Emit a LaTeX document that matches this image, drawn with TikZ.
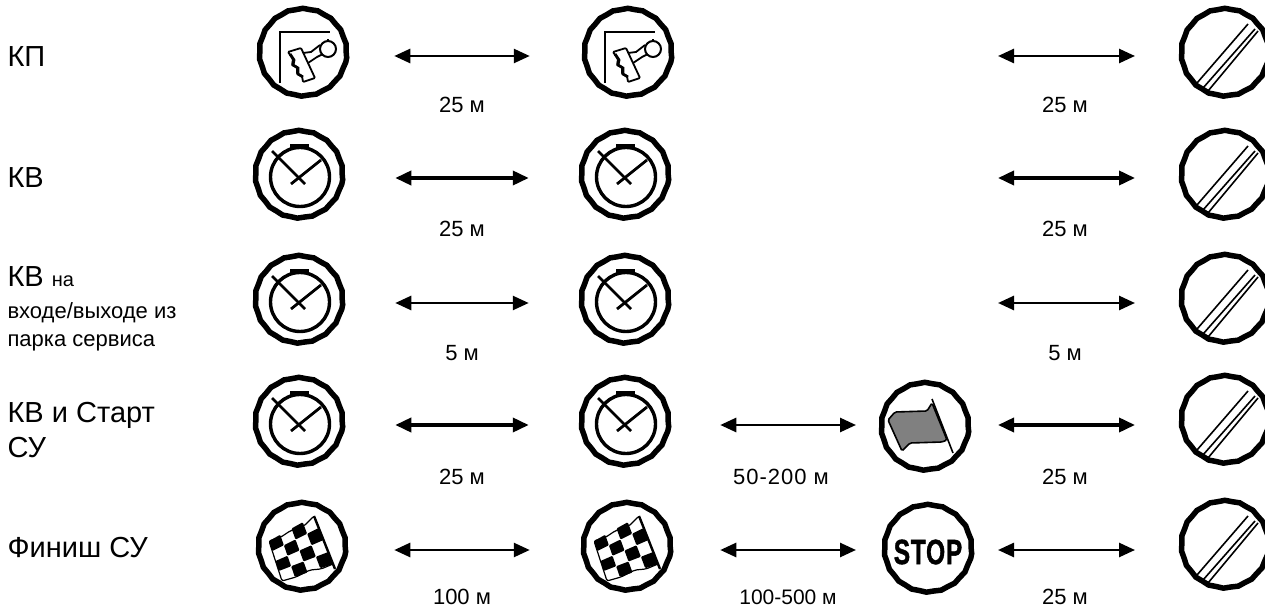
\documentclass[tikz,border=0pt]{standalone}
\usepackage{fontspec}
\setmainfont{Liberation Sans}
\usetikzlibrary{arrows.meta, calc, positioning, decorations.pathmorphing}

\newcommand{\flagpt}[2]{($($(fa)!#1/4!(fb)$)!#2/4!($(fd)!#1/4!(fc)$)$)}

\tikzset{
	sign/.style={circle, draw=black, line width=5.5pt, minimum size=87pt, inner sep=0pt,
		decorate, decoration={snake, segment length=15pt, amplitude=0.4pt}},
	face/.style={yscale=-1},
	dist/.style={<->, >={Triangle[length=16pt,width=14pt]}, line width=2.6pt},
	heavy/.style={line width=3.6pt},
	dist label/.style={font=\fontsize{22}{26}\selectfont},
	row label/.style={anchor=west, align=left, font=\fontsize{29}{35}\selectfont},
	pics/stampface/.style={code={
		\draw[line width=1.8pt] (-23,27) -- (-23,-24) -- (27,-24);
		\draw[line width=1.8pt, rounded corners=1pt] (-15,-4) -- (-2,-8) -- (12,22) -- (0,26)
			-- (-1,20) -- (-6,18) -- (-6,11) -- (-11,9) -- (-10,3) -- cycle;
		\draw[line width=2.8pt] (-13,-2) -- (-9,4) -- (-10,9) -- (-5,12) -- (-5,18) -- (0,21);
		\draw[line width=1.8pt] (0,-3) -- (8,-4) -- (17,-11) (5,7) -- (14,1) -- (20,-2);
		\draw[line width=2pt, fill=white] (25,-7) circle (8);
		\draw[line width=2.4pt] (25,-15) -- (25,-17);
	}},
	pics/clockface/.style={code={
		\draw[line width=3.4pt] (1,-1) circle (29.5);
		\draw[line width=4.5pt] (-9,-32) -- (10,-32);
		\draw[line width=2.8pt] (-27,-27) -- (6,6);
		\draw[line width=2.8pt] (22,-18) -- (-8,6);
	}},
	pics/cancelface/.style={code={
		\draw[line width=1.6pt] (-28,27) -- (23,-32);
		\draw[line width=1.6pt] (-22,32) -- (30,-27);
		\draw[line width=1.6pt] (-17,35) -- (33,-25);
	}},
	pics/greenface/.style={code={
		\draw[line width=1.6pt, fill=black!50, rounded corners=1.5pt] (-37,-10) -- (-30,-18) -- (2,-19) -- (7,-27)
			-- (22,10) -- (17,12) -- (-15,13) -- (-23,21) -- cycle;
		\draw[line width=1.6pt] (7,-31) -- (28,23);
	}},
	pics/finishface/.style={code={
		\coordinate (fa) at (-33,-9);
		\coordinate (fb) at (12,-34);
		\coordinate (fc) at (31,14);
		\coordinate (fd) at (-20,31);
		\draw[line width=1.2pt, rounded corners=2pt] (fa) -- (-21,-13) -- (-12,-19) -- (2,-24) -- (fb)
			-- (fc) -- (19,19) -- (8,20) -- (-6,27) -- (fd) -- cycle;
		\foreach \i in {0,...,3} {
			\foreach \j in {0,...,3} {
				\pgfmathparse{int(mod(\i+\j,2))}
				\ifnum\pgfmathresult=0
					\pgfmathsetmacro{\ni}{int(\i+1)}
					\pgfmathsetmacro{\nj}{int(\j+1)}
					\fill[rounded corners=1pt] \flagpt{\i}{\j} -- \flagpt{\ni}{\j} -- \flagpt{\ni}{\nj} -- \flagpt{\i}{\nj} -- cycle;
				\fi
			}
		}
		\draw[line width=2.4pt] (12,-34) -- (33,19);
	}}
}

\begin{document}
\begin{tikzpicture}[x=1pt, y=1pt]

	\useasboundingbox (0,0) rectangle (1265,-609);

	% row labels
	\node[row label] (L1) at (4,-57) {КП};
	\node[row label] (L2) at (4,-178) {КВ};
	\node[row label] (L3) at (4,-309) {КВ {\fontsize{20}{29}\selectfont на}\\[-3pt]
		{\fontsize{22}{29}\selectfont входе/выходе из}\\[-7pt]
		{\fontsize{22}{29}\selectfont парка сервиса}};
	\node[row label] (L4) at (4,-430) {КВ и Старт\\СУ};
	\node[row label] (L5) at (4,-548) {Финиш СУ};

	% signs
	\node[sign] (A1) at (303,-56) {};
	\node[sign] (B1) at (628,-56) {};
	\node[sign] (D1) at (1225,-56) {};

	\node[sign] (A2) at (299,-178) {};
	\node[sign] (B2) at (625,-178) {};
	\node[sign] (D2) at (1225,-178) {};

	\node[sign] (A3) at (299,-303) {};
	\node[sign] (B3) at (625,-303) {};
	\node[sign] (D3) at (1225,-302) {};

	\node[sign] (A4) at (299,-425) {};
	\node[sign] (B4) at (625,-425) {};
	\node[sign] (C4) at (925,-430) {};
	\node[sign] (D4) at (1225,-423) {};

	\node[sign] (A5) at (302,-550) {};
	\node[sign] (B5) at (627,-550) {};
	\node[sign] (C5) at (928,-552) {\scalebox{0.7}[1]{\fontsize{35}{35}\selectfont\bfseries\addfontfeature{FakeBold=1.5,LetterSpace=3} STOP}};
	\node[sign] (D5) at (1225,-548) {};

	% what is inside the signs
	\pic[face] at (A1) {stampface};
	\pic[face] at (B1) {stampface};
	\pic[face] at (A2) {clockface};
	\pic[face] at (B2) {clockface};
	\pic[face] at (A3) {clockface};
	\pic[face] at (B3) {clockface};
	\pic[face] at (A4) {clockface};
	\pic[face] at (B4) {clockface};
	\pic[face] at (A5) {finishface};
	\pic[face] at (B5) {finishface};
	\pic[face] at (C4) {greenface};
	\foreach \n in {D1,D2,D3,D4,D5} \pic[face] at (\n) {cancelface};

	% free ends of the last arrows
	\coordinate (E1) at (998,-56);
	\coordinate (E2) at (998,-178);
	\coordinate (E3) at (998,-303);

	\draw[dist, shorten <=45pt, shorten >=52pt] (A1) -- (B1);
	\draw[dist, heavy, shorten <=50pt, shorten >=50pt] (A2) -- (B2);
	\draw[dist, shorten <=50pt, shorten >=50pt] (A3) -- (B3);
	\draw[dist, heavy, shorten <=50pt, shorten >=50pt] (A4) -- (B4);
	\draw[dist, shorten <=46pt, shorten >=51pt] (A5) -- (B5);

	\draw[dist, shorten >=90pt] (E1) -- (D1 |- E1);
	\draw[dist, heavy, shorten >=90pt] (E2) -- (D2 |- E2);
	\draw[dist, shorten >=90pt] (E3) -- (D3 |- E3);

	\draw[dist, shorten <=49pt, shorten >=69pt] (B4) -- (C4 |- B4);
	\draw[dist, shorten <=47pt, shorten >=72pt] (B5) -- (C5 |- B5);
	\draw[dist, heavy, shorten <=73pt, shorten >=90pt] (C4 |- A4) -- (D4 |- A4);
	\draw[dist, shorten <=70pt, shorten >=90pt] (C5 |- A5) -- (D5 |- A5);

	% distances
	\node[dist label] (T11) at (462,-105) {25 м};
	\node[dist label] (T12) at (1065,-105) {25 м};
	\node[dist label] (T21) at (462,-229) {25 м};
	\node[dist label] (T22) at (1065,-229) {25 м};
	\node[dist label] (T31) at (462,-353) {5 м};
	\node[dist label] (T32) at (1065,-353) {5 м};
	\node[dist label] (T41) at (462,-477) {25 м};
	\node[dist label] (T42) at (781,-477) {\addfontfeature{LetterSpace=4.5}50-200 м};
	\node[dist label] (T43) at (1065,-477) {25 м};
	\node[dist label] (T51) at (462,-597) {100 м};
	\node[dist label] (T52) at (788,-597) {\fontsize{21}{26}\selectfont 100-500 м};
	\node[dist label] (T53) at (1065,-597) {25 м};
\end{tikzpicture}
\end{document}
